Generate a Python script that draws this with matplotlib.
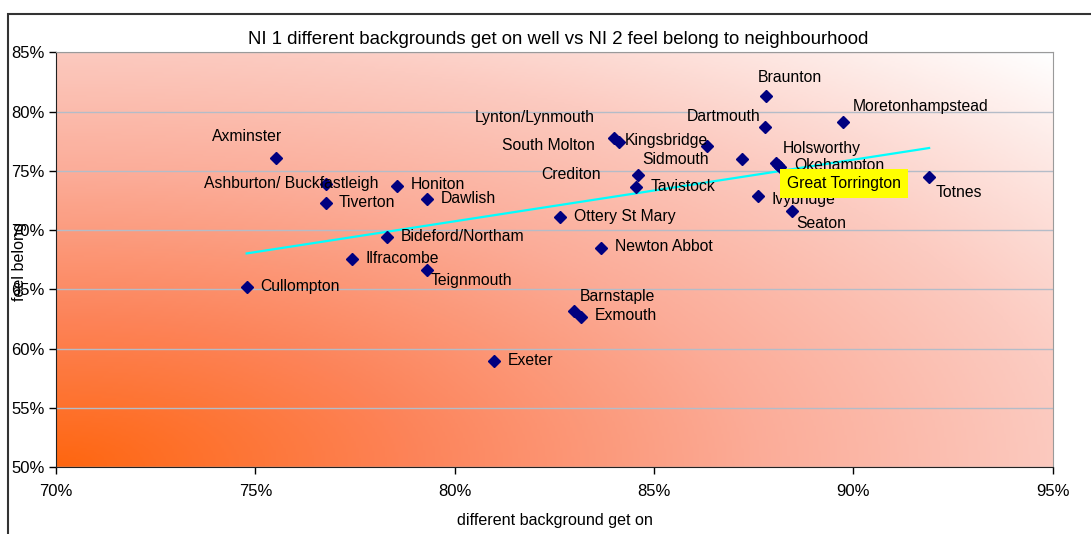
import numpy as np
import matplotlib
matplotlib.use("Agg")
import matplotlib.pyplot as plt
from matplotlib.colors import LinearSegmentedColormap
from matplotlib.patches import Rectangle

plt.rcParams['font.family'] = ['Liberation Sans', 'DejaVu Sans']

# towns with NI 1 (get on well, %) and NI 2 (feel belong, %)
towns = ['Axminster', 'Ashburton/ Buckfastleigh', 'Tiverton', 'Honiton', 'Dawlish',
         'Bideford/Northam', 'Ilfracombe', 'Teignmouth', 'Cullompton', 'Barnstaple',
         'Exmouth', 'Exeter', 'Ottery St Mary', 'Newton Abbot', 'Crediton',
         'Tavistock', 'Lynton/Lynmouth', 'Kingsbridge', 'South Molton', 'Sidmouth',
         'Dartmouth', 'Braunton', 'Moretonhampstead', 'Holsworthy', 'Okehampton',
         'Great Torrington', 'Ivybridge', 'Seaton', 'Totnes']
get_on = [75.52, 76.77, 76.76, 78.56, 79.30,
          78.31, 77.42, 79.30, 74.78, 82.99,
          83.17, 80.98, 82.64, 83.67, 84.60,
          84.55, 84.00, 84.11, 86.33, 87.20,
          87.79, 87.82, 89.74, 88.07, 88.16,
          88.10, 87.60, 88.45, 91.90]
belong = [76.11, 73.89, 72.26, 73.72, 72.59,
          69.38, 67.53, 66.62, 65.16, 63.18,
          62.63, 58.94, 71.10, 68.51, 74.65,
          73.63, 77.74, 77.46, 77.07, 76.00,
          78.72, 81.32, 79.10, 75.63, 75.35,
          75.50, 72.87, 71.63, 74.50]

x_ticks = [70, 75, 80, 85, 90, 95]
y_ticks = [50, 55, 60, 65, 70, 75, 80, 85]

# label placement: offset in pixels from the marker and alignment
label_pos = {
    'Axminster': (-29, 21, 'center'),
    'Ashburton/ Buckfastleigh': (-35, 1, 'center'),
    'Tiverton': (13.5, 1, 'left'),
    'Honiton': (13.5, 2, 'left'),
    'Dawlish': (13.5, 1, 'left'),
    'Bideford/Northam': (13.5, 1, 'left'),
    'Ilfracombe': (13.5, 1, 'left'),
    'Teignmouth': (4, -10.5, 'left'),
    'Cullompton': (13.5, 1, 'left'),
    'Barnstaple': (6, 14, 'left'),
    'Exmouth': (14, 1.5, 'left'),
    'Exeter': (14, 1, 'left'),
    'Ottery St Mary': (14, 1, 'left'),
    'Newton Abbot': (14, 1, 'left'),
    'Crediton': (-37, 1, 'right'),
    'Tavistock': (14.5, 1, 'left'),
    'Lynton/Lynmouth': (-19, 20.5, 'right'),
    'Kingsbridge': (6.5, 1, 'left'),
    'South Molton': (-112, 1, 'right'),
    'Sidmouth': (-32.5, 0, 'right'),
    'Dartmouth': (-5, 10.5, 'right'),
    'Braunton': (23.5, 18.5, 'center'),
    'Moretonhampstead': (9.5, 15.5, 'left'),
    'Holsworthy': (6.5, 15, 'left'),
    'Okehampton': (14.5, 1, 'left'),
    'Great Torrington': (9, -18.5, 'left'),
    'Ivybridge': (14, -3, 'left'),
    'Seaton': (5, -12.5, 'left'),
    'Totnes': (6.5, -16, 'left'),
}

fig = plt.figure(figsize=(10.91, 5.34), dpi=100)
fig.patch.set_facecolor('white')
ax = fig.add_axes([56.1 / 1091, 1 - 467 / 534, (1052.7 - 56.1) / 1091, (467 - 52.4) / 534])

# gradient fill: orange in the bottom-left corner to white at the top-right
cmap = LinearSegmentedColormap.from_list('bg', [
    (0.0, '#ff6610'), (0.25, '#fd8358'), (0.5, '#fbac98'),
    (0.72, '#fccbc1'), (1.0, '#ffffff')])
u, v = np.meshgrid(np.linspace(0, 1, 400), np.linspace(0, 1, 200))
grad = np.clip(np.sqrt(u ** 2 + v ** 2) / np.sqrt(2), 0, 1)
ax.imshow(grad, extent=[70, 95, 50, 85], origin='lower', aspect='auto',
          cmap=cmap, vmin=0, vmax=1, zorder=0, interpolation='bilinear')

ax.set_xlim(70, 95)
ax.set_ylim(50, 85)
ax.set_xticks(x_ticks)
ax.set_yticks(y_ticks)
ax.set_xticklabels([f'{t}%' for t in x_ticks])
ax.set_yticklabels([f'{t}%' for t in y_ticks])
ax.tick_params(direction='out', length=5, width=1, labelsize=12, colors='black')
ax.tick_params(axis='x', pad=7)
ax.tick_params(axis='y', pad=3)
ax.yaxis.grid(True, color='#b4bcc8', lw=1)
ax.set_axisbelow(True)
for side in ['top', 'right']:
    ax.spines[side].set_color('#9a9a9a')
for side in ['left', 'bottom']:
    ax.spines[side].set_color('#222222')

# linear trendline across the data range
coef = np.polyfit(get_on, belong, 1)
xs = np.array([min(get_on), max(get_on)])
ax.plot(xs, np.polyval(coef, xs), color='#00ffff', lw=1.6, zorder=3)

ax.plot(get_on, belong, linestyle='none', marker='D', ms=6.5,
        color='#000080', zorder=4)

for name, gx, by in zip(towns, get_on, belong):
    dx, dy, ha = label_pos[name]
    kw = {}
    z = 5
    if name == 'Great Torrington':
        kw['bbox'] = dict(boxstyle='square,pad=0.45', fc='#ffff00', ec='none')
        z = 6
    ax.annotate(name, (gx, by), xytext=(dx, dy), textcoords='offset pixels',
                ha=ha, va='center', fontsize=11.3, color='black', zorder=z, **kw)

fig.text(558 / 1091, 1 - 40 / 534,
         'NI 1 different backgrounds get on well vs NI 2 feel belong to neighbourhood',
         ha='center', va='center', fontsize=13.4)
fig.text(555 / 1091, 1 - 521 / 534, 'different background get on',
         ha='center', va='center', fontsize=11.6)
fig.text(20 / 1091, 1 - 262 / 534, 'feel belong', rotation=90,
         ha='center', va='center', fontsize=11.6)

# chart area border
fig.patches.append(Rectangle((8 / 1091, -0.1), 1.1, 1.1 - 14 / 534, fill=False,
                             ec='#333333', lw=1.5, transform=fig.transFigure))

fig.savefig('out.png', dpi=100)
